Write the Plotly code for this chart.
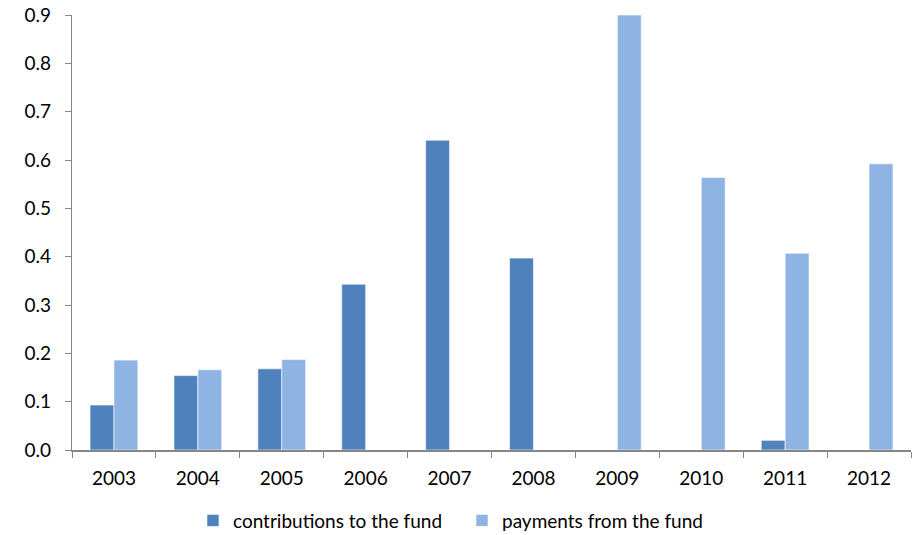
import plotly.graph_objects as go

years = ["2003", "2004", "2005", "2006", "2007", "2008", "2009", "2010", "2011", "2012"]
contributions = [0.093, 0.154, 0.168, 0.343, 0.641, 0.397, None, None, 0.020, None]
payments = [0.186, 0.166, 0.187, None, None, None, 0.900, 0.564, 0.407, 0.592]

FONT = "Lato, 'Open Sans', sans-serif"
AXIS = "#868686"

fig = go.Figure()
fig.add_trace(go.Bar(
    x=years, y=contributions, name="contributions to the fund",
    marker=dict(color="#4F81BD", line=dict(color="#FFFFFF", width=0.6)),
))
fig.add_trace(go.Bar(
    x=years, y=payments, name="payments from the fund",
    marker=dict(color="#8EB4E3", line=dict(color="#FFFFFF", width=0.6)),
))

fig.update_layout(
    width=913, height=535,
    margin=dict(l=72, r=2, t=15, b=85, autoexpand=False),
    barmode="group", bargap=0.43, bargroupgap=0,
    plot_bgcolor="white", paper_bgcolor="white",
    font=dict(family=FONT, size=19, color="#000000"),
    showlegend=True,
    legend=dict(orientation="h", xref="container", x=0.506, xanchor="center",
                yref="container", y=0.027, yanchor="middle",
                font=dict(size=19), itemwidth=30, traceorder="normal",
                entrywidth=224, entrywidthmode="pixels"),
)
fig.update_xaxes(
    type="category", showline=True, linecolor=AXIS, linewidth=1.5,
    ticks="outside", tickson="boundaries", ticklen=6, tickcolor=AXIS,
    showgrid=False, tickfont=dict(size=19), ticklabelstandoff=10, automargin=False,
)
fig.update_yaxes(
    range=[0, 0.9], dtick=0.1, tickformat=".1f",
    showline=True, linecolor=AXIS, linewidth=1.2,
    ticks="outside", ticklen=6, tickcolor=AXIS,
    showgrid=False, zeroline=False, tickfont=dict(size=19), ticklabelstandoff=10,
    automargin=False,
)

fig.write_html("out.html")
